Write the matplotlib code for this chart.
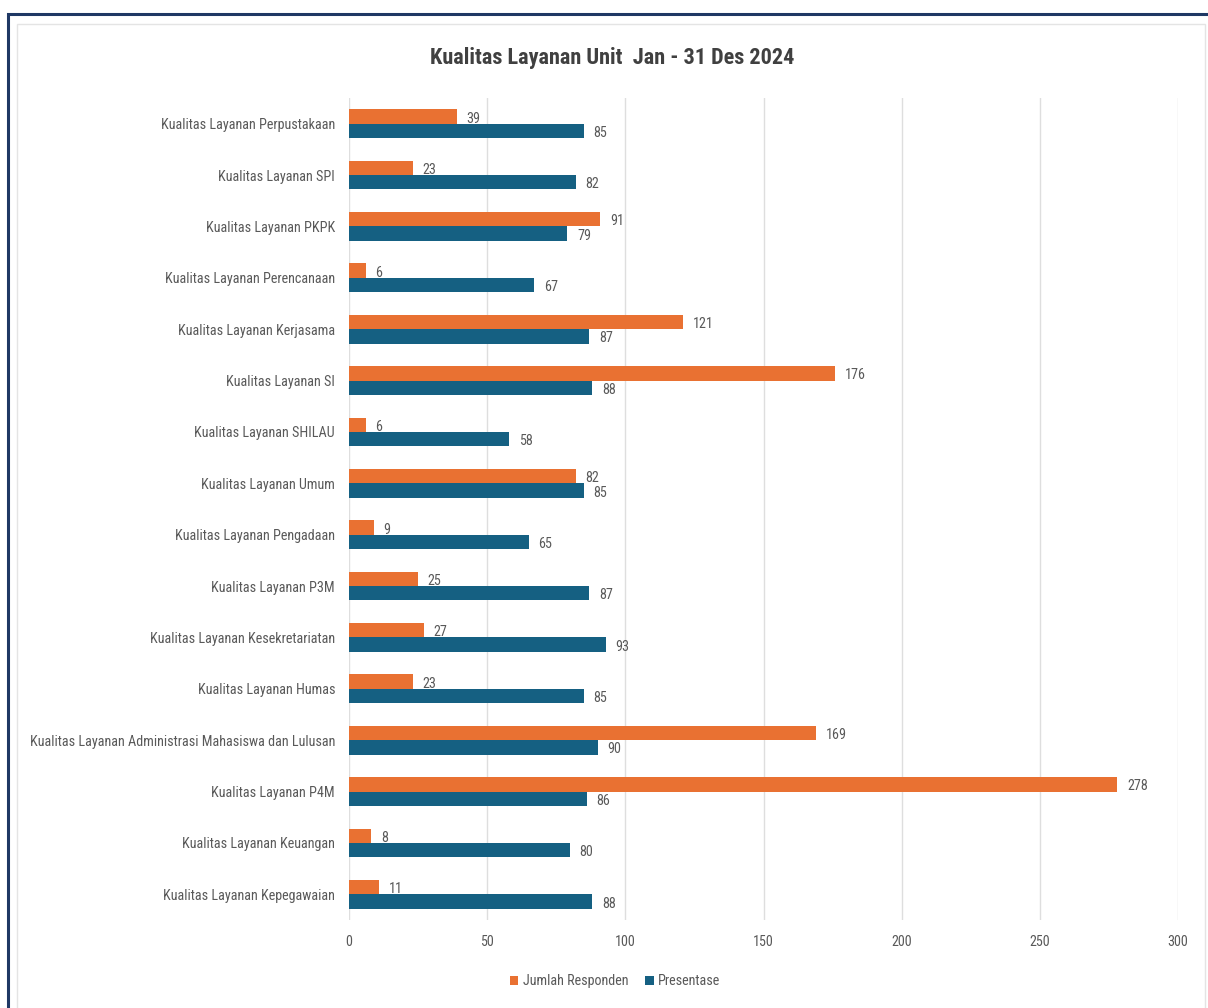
import matplotlib
matplotlib.use("Agg")
import matplotlib.pyplot as plt
from matplotlib import font_manager
from matplotlib.patches import Rectangle
import numpy as np

categories = [
    "Kualitas Layanan Perpustakaan",
    "Kualitas Layanan SPI",
    "Kualitas Layanan PKPK",
    "Kualitas Layanan Perencanaan",
    "Kualitas Layanan Kerjasama",
    "Kualitas Layanan SI",
    "Kualitas Layanan SHILAU",
    "Kualitas Layanan Umum",
    "Kualitas Layanan Pengadaan",
    "Kualitas Layanan P3M",
    "Kualitas Layanan Kesekretariatan",
    "Kualitas Layanan Humas",
    "Kualitas Layanan Administrasi Mahasiswa dan Lulusan",
    "Kualitas Layanan P4M",
    "Kualitas Layanan Keuangan",
    "Kualitas Layanan Kepegawaian",
]
jumlah_responden = [39, 23, 91, 6, 121, 176, 6, 82, 9, 25, 27, 23, 169, 278, 8, 11]
presentase = [85, 82, 79, 67, 87, 88, 58, 85, 65, 87, 93, 85, 90, 86, 80, 88]
x_ticks = [0, 50, 100, 150, 200, 250, 300]

ORANGE = "#E97132"
BLUE = "#156082"
TEXT = "#595959"
GRID = "#DEDEDE"

# pick a narrow sans family (static files preferred so bold works)
_static = {}
for f in font_manager.fontManager.ttflist:
    if "[" not in f.fname:
        _static.setdefault(f.name, set()).add(f.weight)
_pref = ["Aptos Narrow", "Roboto Condensed", "PT Sans Narrow", "Archivo Narrow",
         "Fira Sans Condensed", "IBM Plex Sans Condensed", "Encode Sans Condensed",
         "Barlow Semi Condensed", "Open Sans Condensed", "Liberation Sans Narrow"]
NARROW = next((n for n in _pref if n in _static and 700 in _static[n]), None)
if NARROW is None:
    NARROW = next((n for n in _pref if n in _static), "DejaVu Sans")
plt.rcParams["font.family"] = [NARROW, "DejaVu Sans"]

W, H = 1208, 1008
fig = plt.figure(figsize=(W / 100, H / 100), dpi=100)
fig.patch.set_facecolor("white")

# outer frame and inner chart-area border
fig.add_artist(Rectangle((8 / W, -0.05), 1.2, 1 - 14 / H + 0.05, transform=fig.transFigure,
                         fill=False, edgecolor="#1F3864", linewidth=2.2))
fig.add_artist(Rectangle((17 / W, -0.05), (1205 - 17) / W, 1 - 24 / H + 0.05,
                         transform=fig.transFigure, fill=False, edgecolor="#E4E4E4",
                         linewidth=1.0))

ax = fig.add_axes([349 / W, 1 - 920 / H, (1178 - 349) / W, (920 - 98) / H])
ax.set_facecolor("none")

y = np.arange(len(categories))
bh = 0.28
ax.barh(y - bh / 2, jumlah_responden, height=bh, color=ORANGE, label="Jumlah Responden", zorder=3)
ax.barh(y + bh / 2, presentase, height=bh, color=BLUE, label="Presentase", zorder=3)

for yi, v in zip(y, jumlah_responden):
    ax.text(v + 3.5, yi - bh / 2 + 0.04, str(v), va="center", ha="left",
            fontsize=10.2, color=TEXT, zorder=4)
for yi, v in zip(y, presentase):
    ax.text(v + 3.5, yi + bh / 2 + 0.04, str(v), va="center", ha="left",
            fontsize=10.2, color=TEXT, zorder=4)

ax.set_xlim(0, 300)
ax.set_ylim(len(categories) - 0.5, -0.5)
ax.set_xticks(x_ticks)
ax.set_yticks(y)
ax.set_yticklabels(categories)
ax.tick_params(axis="both", length=0, labelsize=10.2, labelcolor=TEXT)
ax.tick_params(axis="x", pad=11)
ax.tick_params(axis="y", pad=10)
ax.grid(axis="x", color=GRID, linewidth=1.0, zorder=0)
for s in ax.spines.values():
    s.set_visible(False)

fig.text(612 / W, 1 - 58 / H, "Kualitas Layanan Unit  Jan - 31 Des 2024", ha="center",
         va="center", fontsize=16, fontweight="bold", color="#404040")

ax.legend(loc="center", bbox_to_anchor=(615 / W, 1 - 981 / H), bbox_transform=fig.transFigure,
          ncol=2, frameon=False, fontsize=10.2, labelcolor=TEXT, handlelength=0.6,
          handleheight=0.6, handletextpad=0.3, columnspacing=1.2)

fig.savefig("out.png", dpi=100, facecolor="white")
